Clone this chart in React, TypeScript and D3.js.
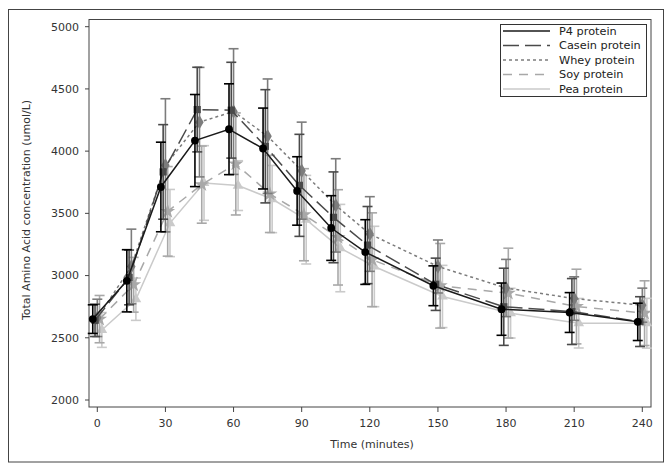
import React from "react";
import * as d3 from "d3";

const times = [0, 15, 30, 45, 60, 75, 90, 105, 120, 150, 180, 210, 240];
const xTicks = [0, 30, 60, 90, 120, 150, 180, 210, 240];
const yTicks = [2000, 2500, 3000, 3500, 4000, 4500, 5000];

const p4Mean = [2650, 2958, 3712, 4085, 4176, 4021, 3680, 3382, 3189, 2918, 2730, 2703, 2628];
const p4Err = [115, 250, 360, 370, 365, 325, 275, 260, 260, 160, 210, 160, 150];
const caseinMean = [2640, 2985, 3833, 4334, 4329, 4039, 3725, 3468, 3245, 2930, 2749, 2711, 2630];
const caseinErr = [130, 220, 380, 340, 385, 455, 410, 365, 310, 210, 310, 265, 200];
const wheyMean = [2660, 3073, 3886, 4233, 4318, 4120, 3843, 3564, 3334, 3073, 2900, 2815, 2762];
const wheyErr = [150, 300, 535, 440, 505, 460, 390, 375, 300, 213, 230, 175, 137];
const soyMean = [2650, 2926, 3516, 3731, 3897, 3656, 3489, 3307, 3127, 2918, 2859, 2751, 2698];
const soyErr = [190, 220, 360, 310, 410, 310, 370, 383, 377, 340, 361, 300, 260];
const peaMean = [2563, 2810, 3422, 3744, 3723, 3615, 3449, 3221, 3073, 2832, 2698, 2617, 2617];
const peaErr = [140, 170, 270, 300, 200, 270, 356, 351, 323, 250, 200, 199, 200];

const seriesNames = ["P4 protein", "Casein protein", "Whey protein", "Soy protein", "Pea protein"];

const FONT = "'DejaVu Sans', Verdana, sans-serif";

export default function App() {
  const W = 671, H = 472;
  const x = d3.scaleLinear().domain([0, 240]).range([97.3, 642.3]);
  const y = d3.scaleLinear().domain([2000, 5000]).range([400, 26.7]);
  const frame = { l: 89, r: 651, t: 19.5, b: 407 };

  const series = [
    { name: seriesNames[0], mean: p4Mean, err: p4Err, color: "#000000", lineColor: "#1a1a1a", dash: "", sym: d3.symbolCircle, size: 48, dodge: -2 },
    { name: seriesNames[1], mean: caseinMean, err: caseinErr, color: "#4a4a4a", lineColor: "#4a4a4a", dash: "16,6", sym: d3.symbolSquare, size: 52, dodge: -1 },
    { name: seriesNames[2], mean: wheyMean, err: wheyErr, color: "#7c7c7c", lineColor: "#7c7c7c", dash: "3,3", sym: d3.symbolDiamond, size: 60, dodge: 0 },
    { name: seriesNames[3], mean: soyMean, err: soyErr, color: "#a8a8a8", lineColor: "#a8a8a8", dash: "9,7", sym: d3.symbolStar, size: 70, dodge: 1 },
    { name: seriesNames[4], mean: peaMean, err: peaErr, color: "#cacaca", lineColor: "#cacaca", dash: "", sym: d3.symbolTriangle, size: 50, dodge: 2 },
  ];

  const line = d3.line<[number, number]>().x((d) => d[0]).y((d) => d[1]);
  const drawOrder = [...series].reverse();

  return (
    <svg width={W} height={H} style={{ position: "absolute", left: 0, top: 0, background: "#fff" }} fontFamily={FONT}>
      <rect x={0} y={0} width={W} height={H} fill="#fff" />
      <rect x={8.5} y={9.5} width={655} height={452.5} fill="none" stroke="#444" strokeWidth={1} />
      <rect x={frame.l} y={frame.t} width={frame.r - frame.l} height={frame.b - frame.t} fill="none" stroke="#444" strokeWidth={1} />

      {/* y axis */}
      {yTicks.map((t) => (
        <g key={"y" + t}>
          <line x1={frame.l - 4} x2={frame.l} y1={y(t)} y2={y(t)} stroke="#444" />
          <text x={frame.l - 10} y={y(t)} dy="0.35em" textAnchor="end" fontSize={11} fill="#333">{t}</text>
        </g>
      ))}
      {/* x axis */}
      {xTicks.map((t) => (
        <g key={"x" + t}>
          <line x1={x(t)} x2={x(t)} y1={frame.b} y2={frame.b + 5} stroke="#444" />
          <text x={x(t)} y={423} dy="0.35em" textAnchor="middle" fontSize={11} fill="#333">{t}</text>
        </g>
      ))}
      <text x={372} y={444} dy="0.35em" textAnchor="middle" fontSize={11} fill="#333">Time (minutes)</text>
      <text transform={`translate(26,${210}) rotate(-90)`} textAnchor="middle" dy="0.35em" fontSize={11} fill="#333">
        Total Amino Acid concentration (umol/L)
      </text>

      {/* series */}
      {drawOrder.map((s) => {
        const pts: [number, number][] = times.map((t, i) => [x(t + s.dodge), y(s.mean[i])]);
        return (
          <g key={s.name}>
            <path d={line(pts) || ""} fill="none" stroke={s.lineColor} strokeWidth={1.5} strokeDasharray={s.dash} />
            {times.map((t, i) => {
              const cx = x(t + s.dodge);
              const y1 = y(s.mean[i] + s.err[i]);
              const y2 = y(s.mean[i] - s.err[i]);
              return (
                <g key={i} stroke={s.color} strokeWidth={1.6}>
                  <line x1={cx} x2={cx} y1={y1} y2={y2} />
                  <line x1={cx - 5} x2={cx + 5} y1={y1} y2={y1} />
                  <line x1={cx - 5} x2={cx + 5} y1={y2} y2={y2} />
                </g>
              );
            })}
            {times.map((t, i) => (
              <path
                key={"m" + i}
                d={d3.symbol().type(s.sym).size(s.size)() || ""}
                transform={`translate(${x(t + s.dodge)},${y(s.mean[i])})`}
                fill={s.color}
              />
            ))}
          </g>
        );
      })}

      {/* legend */}
      <rect x={500.5} y={24.5} width={146} height={72} fill="#fff" stroke="#333" strokeWidth={1} />
      {series.map((s, i) => {
        const ly = 31 + i * 14.5;
        return (
          <g key={"lg" + i}>
            <line x1={503} x2={550} y1={ly} y2={ly} stroke={s.lineColor} strokeWidth={1.5} strokeDasharray={s.dash} />
            <text x={559} y={ly} dy="0.35em" fontSize={11.3} fill="#222">{s.name}</text>
          </g>
        );
      })}
    </svg>
  );
}
